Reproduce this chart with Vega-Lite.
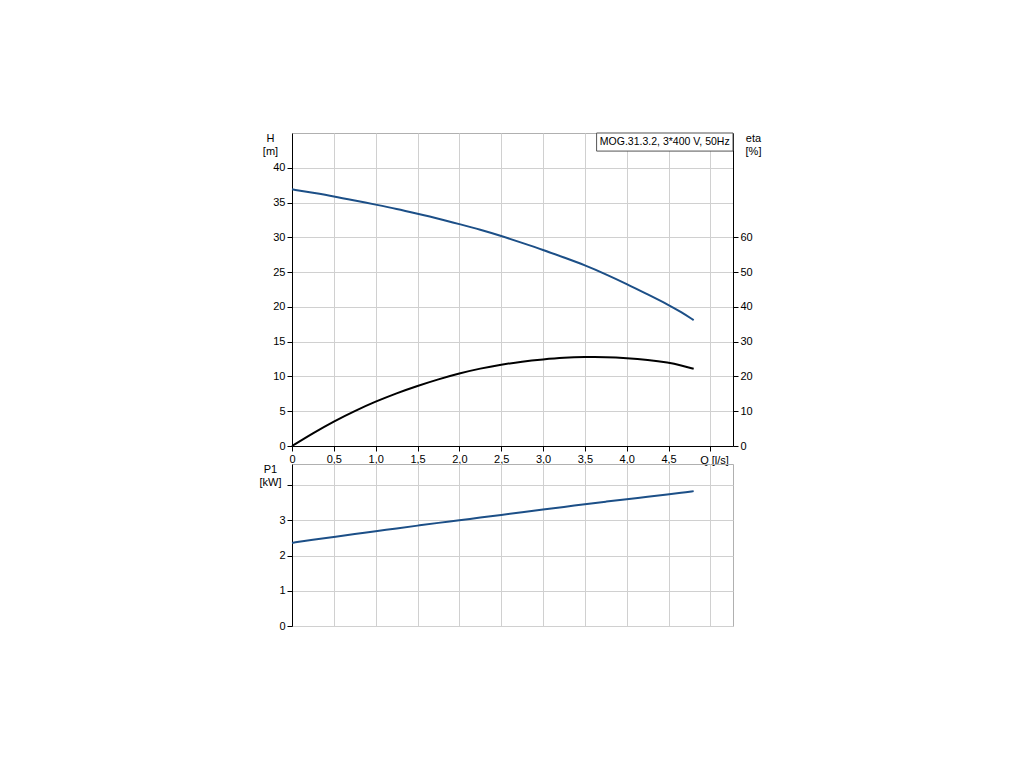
{
  "$schema": "https://vega.github.io/schema/vega-lite/v6.json",
  "autosize": {"type": "pad"},
  "padding": {"left": 258, "top": 131, "right": 10, "bottom": 10},
  "background": "white",
  "config": {
    "font": "Liberation Sans",
    "view": {"stroke": "#b0b0b0", "strokeWidth": 1},
    "axis": {
      "labelFont": "Liberation Sans",
      "titleFont": "Liberation Sans",
      "labelFontSize": 11,
      "titleFontSize": 11,
      "titleFontWeight": "normal",
      "labelColor": "#000",
      "titleColor": "#000",
      "domainColor": "#000",
      "tickColor": "#000",
      "gridColor": "#d0d0d0",
      "gridWidth": 1,
      "tickSize": 5,
      "labelPadding": 2,
      "labelOverlap": false
    },
    "concat": {"spacing": 18}
  },
  "bounds": "flush",
  "datasets": {
    "curve": [
      {"Q": 0.0, "H": 36.9, "eta": 0.0, "P1": 2.36},
      {"Q": 0.25, "H": 36.4, "eta": 3.7, "P1": 2.45},
      {"Q": 0.5, "H": 35.9, "eta": 7.1, "P1": 2.53},
      {"Q": 0.75, "H": 35.3, "eta": 10.1, "P1": 2.61},
      {"Q": 1.0, "H": 34.7, "eta": 12.8, "P1": 2.69},
      {"Q": 1.25, "H": 34.1, "eta": 15.2, "P1": 2.77},
      {"Q": 1.5, "H": 33.4, "eta": 17.3, "P1": 2.85},
      {"Q": 1.75, "H": 32.7, "eta": 19.2, "P1": 2.93},
      {"Q": 2.0, "H": 31.9, "eta": 20.9, "P1": 3.00},
      {"Q": 2.25, "H": 31.1, "eta": 22.3, "P1": 3.08},
      {"Q": 2.5, "H": 30.2, "eta": 23.4, "P1": 3.15},
      {"Q": 2.75, "H": 29.2, "eta": 24.3, "P1": 3.23},
      {"Q": 3.0, "H": 28.2, "eta": 24.9, "P1": 3.31},
      {"Q": 3.25, "H": 27.1, "eta": 25.4, "P1": 3.38},
      {"Q": 3.5, "H": 26.0, "eta": 25.6, "P1": 3.46},
      {"Q": 3.75, "H": 24.7, "eta": 25.6, "P1": 3.53},
      {"Q": 4.0, "H": 23.3, "eta": 25.3, "P1": 3.60},
      {"Q": 4.25, "H": 21.8, "eta": 24.8, "P1": 3.67},
      {"Q": 4.5, "H": 20.3, "eta": 24.0, "P1": 3.74},
      {"Q": 4.65, "H": 19.25, "eta": 23.2, "P1": 3.78},
      {"Q": 4.8, "H": 18.1, "eta": 22.2, "P1": 3.83}
    ],
    "label": [
      {"text": "MOG.31.3.2, 3*400 V, 50Hz", "x1": 3.64, "x2": 5.27, "y1": 42.4, "y2": 45, "xt": 5.23, "yt": 43.7}
    ]
  },
  "vconcat": [
    {
      "width": 441,
      "height": 313,
      "layer": [
        {
          "layer": [
            {
              "data": {"name": "curve"},
              "mark": {"type": "line", "color": "#1c4f87", "strokeWidth": 2, "interpolate": "basis"},
              "encoding": {
                "x": {
                  "field": "Q", "type": "quantitative",
                  "scale": {"domain": [0, 5.27], "nice": false, "zero": false},
                  "axis": {
                    "values": [0, 0.5, 1, 1.5, 2, 2.5, 3, 3.5, 4, 4.5, 5],
                    "labelExpr": "datum.value == 0 ? '0' : (datum.value >= 5 ? '' : replace(format(datum.value, '.1f'), '.', ','))",
                    "title": "Q [l/s]",
                    "titleX": 422, "titleY": 17, "titleAlign": "center", "titleBaseline": "alphabetic",
                    "labelFlush": false,
                    "grid": true
                  }
                },
                "y": {
                  "field": "H", "type": "quantitative",
                  "scale": {"domain": [0, 45], "nice": false},
                  "axis": {
                    "values": [0, 5, 10, 15, 20, 25, 30, 35, 40],
                    "title": ["H", "[m]"],
                    "titleAngle": 0, "titleX": -22, "titleY": 8,
                    "titleAlign": "center", "titleBaseline": "alphabetic",
                    "titleLineHeight": 13,
                    "grid": true
                  }
                }
              }
            },
            {
              "data": {"name": "label"},
              "mark": {"type": "rect", "fill": "white", "stroke": "#555555", "strokeWidth": 1},
              "encoding": {
                "x": {
                  "field": "x1", "type": "quantitative",
                  "axis": {
                    "values": [0, 0.5, 1, 1.5, 2, 2.5, 3, 3.5, 4, 4.5, 5],
                    "labelExpr": "datum.value == 0 ? '0' : (datum.value >= 5 ? '' : replace(format(datum.value, '.1f'), '.', ','))",
                    "title": "Q [l/s]",
                    "titleX": 422, "titleY": 17, "titleAlign": "center", "titleBaseline": "alphabetic",
                    "labelFlush": false,
                    "grid": true
                  }
                },
                "x2": {"field": "x2"},
                "y": {
                  "field": "y1", "type": "quantitative",
                  "axis": {
                    "values": [0, 5, 10, 15, 20, 25, 30, 35, 40],
                    "title": ["H", "[m]"],
                    "titleAngle": 0, "titleX": -22, "titleY": 8,
                    "titleAlign": "center", "titleBaseline": "alphabetic",
                    "titleLineHeight": 13,
                    "grid": true
                  }
                },
                "y2": {"field": "y2"}
              }
            },
            {
              "data": {"name": "label"},
              "mark": {"type": "text", "align": "right", "baseline": "middle", "fontSize": 10.5, "font": "Liberation Sans", "color": "#000"},
              "encoding": {
                "x": {
                  "field": "xt", "type": "quantitative",
                  "axis": {
                    "values": [0, 0.5, 1, 1.5, 2, 2.5, 3, 3.5, 4, 4.5, 5],
                    "labelExpr": "datum.value == 0 ? '0' : (datum.value >= 5 ? '' : replace(format(datum.value, '.1f'), '.', ','))",
                    "title": "Q [l/s]",
                    "titleX": 422, "titleY": 17, "titleAlign": "center", "titleBaseline": "alphabetic",
                    "labelFlush": false,
                    "grid": true
                  }
                },
                "y": {
                  "field": "yt", "type": "quantitative",
                  "axis": {
                    "values": [0, 5, 10, 15, 20, 25, 30, 35, 40],
                    "title": ["H", "[m]"],
                    "titleAngle": 0, "titleX": -22, "titleY": 8,
                    "titleAlign": "center", "titleBaseline": "alphabetic",
                    "titleLineHeight": 13,
                    "grid": true
                  }
                },
                "text": {"field": "text"}
              }
            }
          ]
        },
        {
          "data": {"name": "curve"},
          "mark": {"type": "line", "color": "#000000", "strokeWidth": 2, "interpolate": "basis"},
          "encoding": {
            "x": {"field": "Q", "type": "quantitative", "scale": {"domain": [0, 5.27], "nice": false, "zero": false}},
            "y": {
              "field": "eta", "type": "quantitative",
              "scale": {"domain": [0, 90], "nice": false},
              "axis": {
                "orient": "right",
                "values": [0, 10, 20, 30, 40, 50, 60],
                "title": ["eta", "[%]"],
                "titleAngle": 0, "titleX": 20, "titleY": 8,
                "titleAlign": "center", "titleBaseline": "alphabetic",
                "titleLineHeight": 13,
                "grid": false
              }
            }
          }
        }
      ],
      "resolve": {"scale": {"y": "independent"}}
    },
    {
      "width": 441,
      "height": 162,
      "data": {"name": "curve"},
      "mark": {"type": "line", "color": "#1c4f87", "strokeWidth": 2, "interpolate": "basis"},
      "encoding": {
        "x": {
          "field": "Q", "type": "quantitative",
          "scale": {"domain": [0, 5.27], "nice": false, "zero": false},
          "axis": {
            "values": [0, 0.5, 1, 1.5, 2, 2.5, 3, 3.5, 4, 4.5, 5],
            "labels": false, "ticks": false, "domain": false, "title": null,
            "grid": true
          }
        },
        "y": {
          "field": "P1", "type": "quantitative",
          "scale": {"domain": [0, 4.6], "nice": false},
          "axis": {
            "values": [0, 1, 2, 3, 4],
            "labelExpr": "datum.value >= 4 ? '' : datum.label",
            "title": ["P1", "[kW]"],
            "titleAngle": 0, "titleX": -22, "titleY": 8,
            "titleAlign": "center", "titleBaseline": "alphabetic",
            "titleLineHeight": 13,
            "grid": true
          }
        }
      }
    }
  ]
}
